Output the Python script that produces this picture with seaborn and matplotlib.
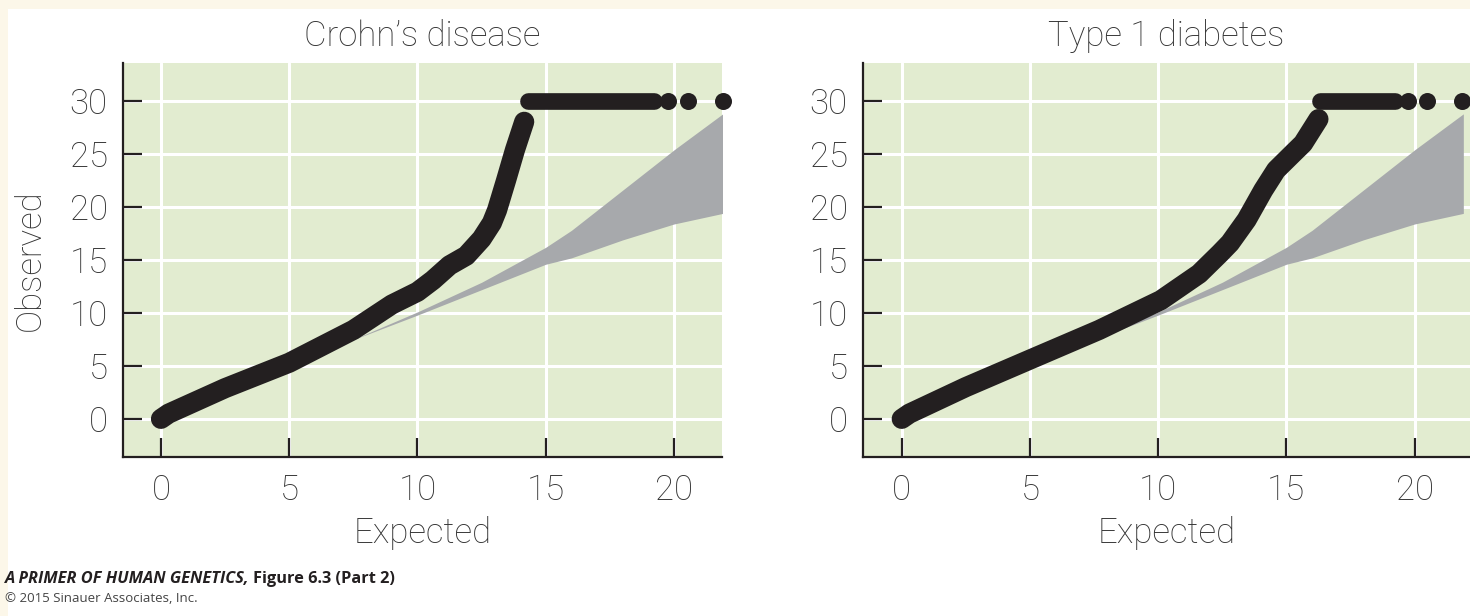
import matplotlib
matplotlib.use("Agg")
import matplotlib.pyplot as plt
from matplotlib.patches import Rectangle
import seaborn as sns
import pandas as pd

# --- data ---
titles = ["Crohn\u2019s disease", "Type 1 diabetes"]
ticks_x = [0, 5, 10, 15, 20]
ticks_y = [0, 5, 10, 15, 20, 25, 30]

# observed vs expected (-log10 p), centre of the dot chain
crohn_x = [0.0, 0.3, 2.5, 5.0, 7.5, 9.0, 10.0, 10.6, 11.25, 11.9, 12.5, 12.9, 13.1, 13.45, 13.8, 14.16]
crohn_y = [0.0, 0.5, 2.9, 5.3, 8.4, 10.8, 12.0, 13.1, 14.5, 15.4, 17.0, 18.5, 19.7, 22.5, 25.4, 28.05]
t1d_x = [0.0, 0.3, 2.5, 5.0, 7.7, 10.1, 11.6, 12.4, 12.8, 13.45, 14.1, 14.6, 15.27, 15.65, 16.25]
t1d_y = [0.0, 0.5, 3.0, 5.6, 8.4, 11.2, 13.7, 15.6, 16.6, 18.8, 21.6, 23.5, 25.1, 26.0, 28.3]

# points capped at 30: dense run + separate dots
crohn_cap_run = [14.3, 19.2]
crohn_cap_dots = [19.77, 20.55, 21.9]
t1d_cap_run = [16.3, 19.25]
t1d_cap_dots = [19.75, 20.5, 21.85]
cap_value = 30

# null expectation band
band_x = [7.3, 10.0, 12.5, 15.0, 16.0, 18.0, 20.0, 21.9]
band_lo = [7.3, 9.8, 12.2, 14.6, 15.2, 16.9, 18.4, 19.4]
band_hi = [7.3, 10.1, 12.9, 16.2, 17.8, 21.6, 25.4, 28.8]

GREEN = "#e2ecd0"
BAND = "#a7a9ac"
DOT = "#231f20"
TXT = "#333333"
FS = 25

sns.set_theme(style="white")
plt.rcParams["font.family"] = ["Roboto", "DejaVu Sans"]

fig = plt.figure(figsize=(14.7, 6.16), dpi=100)
fig.patch.set_facecolor("#fcf7e9")
fig.patches.append(Rectangle((8 / 1470, 0), 1, 1 - 9 / 616, transform=fig.transFigure,
                             facecolor="white", edgecolor="none", zorder=-1))

ax1 = fig.add_axes([123 / 1470, 1 - 457 / 616, 599 / 1470, 394 / 616])
ax2 = fig.add_axes([863 / 1470, 1 - 457 / 616, 607 / 1470, 394 / 616])

panels = [
    (ax1, crohn_x, crohn_y, crohn_cap_run, crohn_cap_dots, (-1.48, 21.87)),
    (ax2, t1d_x, t1d_y, t1d_cap_run, t1d_cap_dots, (-1.51, 22.16)),
]

for i, (ax, cx, cy, run, dots, xlim) in enumerate(panels):
    ax.set_facecolor(GREEN)
    ax.fill_between(band_x, band_lo, band_hi, color=BAND, linewidth=0, zorder=2)

    curve = pd.DataFrame({"expected": cx, "observed": cy})
    sns.lineplot(data=curve, x="expected", y="observed", ax=ax, sort=False, estimator=None,
                 color=DOT, linewidth=14.5, solid_capstyle="round", solid_joinstyle="round",
                 zorder=3)
    top = pd.DataFrame({"expected": run, "observed": [cap_value] * len(run)})
    sns.lineplot(data=top, x="expected", y="observed", ax=ax, sort=False, estimator=None,
                 color=DOT, linewidth=12, solid_capstyle="round", zorder=3)
    sep = pd.DataFrame({"expected": dots, "observed": [cap_value] * len(dots)})
    sns.scatterplot(data=sep, x="expected", y="observed", ax=ax, color=DOT, s=150,
                    linewidth=0, zorder=4, clip_on=False)

    ax.set_xlim(*xlim)
    ax.set_ylim(-3.6, 33.6)
    ax.set_xticks(ticks_x)
    ax.set_yticks(ticks_y)
    ax.grid(True, color="white", linewidth=2.2)
    ax.set_axisbelow(True)
    for s in ["top", "right"]:
        ax.spines[s].set_visible(False)
    for s in ["left", "bottom"]:
        ax.spines[s].set_color(DOT)
        ax.spines[s].set_linewidth(1.6)
        ax.spines[s].set_zorder(5)
    ax.tick_params(axis="both", direction="in", length=14, width=1.6, color=DOT,
                   labelsize=FS, labelcolor=TXT, left=True, bottom=True)
    ax.tick_params(axis="y", pad=11)
    ax.tick_params(axis="x", pad=12)
    for lab in ax.get_xticklabels() + ax.get_yticklabels():
        lab.set_fontweight("light")
    ax.set_title(titles[i], fontsize=FS, color=TXT, fontweight="light", pad=12)
    ax.set_xlabel("Expected", fontsize=FS, color=TXT, fontweight="light", labelpad=6)
    if i == 0:
        ax.set_ylabel("Observed", fontsize=FS, color=TXT, fontweight="light", labelpad=16)
    else:
        ax.set_ylabel("")

# caption
cap_font = ["Open Sans", "DejaVu Sans"]
t1 = fig.text(5 / 1470, 1 - 583 / 616, "A PRIMER OF HUMAN GENETICS,", fontsize=11.8,
              fontweight="bold", fontstyle="italic", family=cap_font, color="#231f20")
fig.canvas.draw()
bb = t1.get_window_extent()
fig.text((bb.x1 + 4) / 1470, 1 - 583 / 616, "Figure 6.3 (Part 2)", fontsize=11.8,
         fontweight="bold", family=cap_font, color="#231f20")
fig.text(5 / 1470, 1 - 602 / 616, "\u00a9 2015 Sinauer Associates, Inc.", fontsize=9.5,
         family=cap_font, color="#444444")

fig.savefig("out.png", dpi=100, facecolor=fig.get_facecolor())
